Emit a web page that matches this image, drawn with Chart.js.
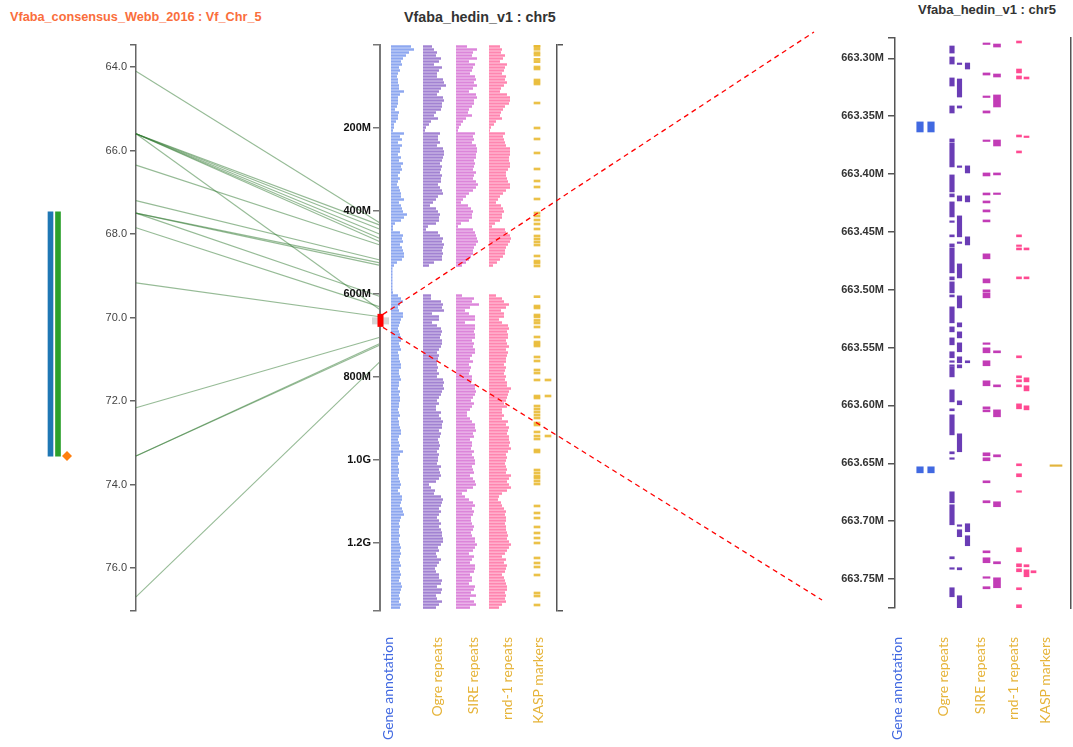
<!DOCTYPE html>
<html>
<head>
<meta charset="utf-8">
<script src="https://cdn.jsdelivr.net/npm/chart.js@4.4.1/dist/chart.umd.min.js"></script>
<style>
  html, body { margin: 0; padding: 0; background: #fff; }
  #stage { position: relative; width: 1073px; height: 747px; overflow: hidden; background: #fff; }
  #stage canvas { position: absolute; top: 0; }
  .title { position: absolute; font-family: "Liberation Sans", Arial, sans-serif; font-weight: bold; white-space: nowrap; line-height: 14px; }
  .track-label { position: absolute; top: 637px; font-family: Lato, "Open Sans", sans-serif; font-size: 14px; line-height: 16px;
                 writing-mode: vertical-rl; transform: rotate(180deg); white-space: nowrap; }
</style>
</head>
<body>
<div id="stage">
  <div class="title" style="left:10px;top:10px;font-size:12.7px;color:#fa6e3c;">Vfaba_consensus_Webb_2016 : Vf_Chr_5</div>
  <div class="title" style="left:404px;top:10px;font-size:14.3px;color:#333;">Vfaba_hedin_v1 : chr5</div>
  <div class="title" style="left:918px;top:3px;font-size:13px;color:#333;">Vfaba_hedin_v1 : chr5</div>
</div>
<script>
// ---------------- genetic map (cM) ----------------
const cmTicks = [64, 66, 68, 70, 72, 74, 76];
const qtlInterval = [67.47, 73.32];      // blue / green interval bars
const qtlPeak = 73.32;                   // orange diamond

// marker links: genetic position (cM) -> physical position (Mb)
const linkCM = [64.10, 65.60, 65.60, 65.60, 65.60, 65.60, 65.60, 66.35, 67.20, 67.50, 67.50, 67.50, 67.85, 69.17, 72.16, 73.32, 73.32, 76.69];
const linkBP = [429, 434, 444, 456, 466, 474, 638, 482, 518, 525, 531, 606, 631, 655, 704, 719, 723, 763];

// ---------------- physical chromosome (Mb) ----------------
const bpTicks = [200, 400, 600, 800, 1000, 1200];
const bpTickLabels = ['200M', '400M', '600M', '800M', '1.0G', '1.2G'];
const BIN = 7.23;          // Mb per density bin

const geneDensity = [
  20,23,18,15,12,10,11,8,9,7, 6,7,7,8,8,13,9,7,7,7, 6,4,8,7,7,5,3,3,
  2,
  13,9,11,7,11,9,9,7,10,8, 12,10,11,9,7,9,7,6,8,9, 10,10,13,8,10,11,12,16,13,10, 4,2,2,9,12,11,12,9,11,12, 13,13,11,6,3,
  1.5,1.5,1.5,1.5,1.5,1.5,1.5,1.5,2,
  7,10,12,9,7,8,12,12,10,9, 8,7,8,9,10,10,8,9,10,7, 8,8,9,10,10,8,8,9,10,8, 8,7,9,8,9,9,8,8,7,8,
  9,7,8,8,9,10,10,8,7,8, 9,8,12,9,7,7,8,7,8,8, 7,8,9,10,9,7,9,11,11,10, 9,11,12,13,10,9,8,9,8,8,
  9,8,8,9,10,9,10,9,8,9, 10,8,9,10,9,8,10,11,10,9, 8,9,8,10,9
];
const ogreDensity = [
  9,11,14,13,18,16,11,19,16,14, 14,20,21,23,18,16,14,20,21,19, 19,18,13,11,15,8,6,3,
  2,
  17,15,15,17,14,20,21,21,20,19, 17,19,18,17,19,18,18,15,17,19, 20,15,13,10,7,13,15,17,16,16, 13,5,3,15,17,20,19,21,20,19, 20,19,19,11,6,
  0,0,0,0,0,0,0,0,0,
  8,8,18,20,19,21,9,16,16,9, 14,18,19,18,17,19,19,18,16,14, 16,15,14,14,15,14,16,14,20,21, 20,21,19,18,16,14,16,13,13,18,
  16,18,20,19,19,16,18,17,15,16, 17,16,14,16,15,15,14,18,16,17, 18,16,13,6,8,12,11,18,20,19, 18,16,18,16,14,16,18,16,18,19,
  19,20,20,18,15,16,13,14,18,16, 14,12,13,16,16,19,18,14,19,18, 13,14,19,16,13
];
const sireDensity = [
  11,21,17,16,21,13,19,17,16,14, 19,20,18,21,17,13,20,21,18,18, 16,13,12,16,10,7,5,3,
  2,
  19,17,18,16,20,21,21,20,20,18, 19,18,17,20,18,17,20,22,20,17, 13,10,7,5,12,15,17,16,16,13, 5,2,17,19,20,21,22,20,18,17, 17,15,13,10,6,
  0,0,0,0,0,0,0,0,0,
  6,18,16,23,14,9,13,19,19,9, 19,19,18,19,19,16,18,17,19,19, 16,14,17,13,15,14,13,16,16,15, 19,19,20,19,17,15,18,16,14,11,
  11,14,16,19,19,20,17,18,14,16, 16,15,18,16,18,19,19,16,17,18, 14,17,19,20,17,11,6,9,13,17, 19,16,18,17,15,15,16,18,17,15,
  16,19,19,21,19,17,13,18,16,14, 19,19,18,14,16,16,13,19,18,15, 20,14,18,20,14
];
const rnd1Density = [
  11,13,12,16,14,11,18,16,15,13, 17,16,18,15,12,11,18,21,21,20, 16,14,12,11,13,7,5,2,
  1,
  16,14,15,16,17,21,21,21,20,20, 21,21,19,17,17,18,19,21,21,17, 14,11,9,7,12,14,15,13,13,11, 6,3,16,17,21,22,21,19,17,16, 16,14,11,8,4,
  0,0,0,0,0,0,0,0,0,
  7,13,15,20,17,12,15,15,10,13, 19,20,18,19,19,17,18,20,17,19, 18,17,17,15,17,16,15,17,16,18, 18,22,20,19,18,17,15,18,13,13,
  15,13,19,17,20,19,18,20,20,21, 20,22,19,17,18,17,16,17,18,17, 22,20,18,20,22,18,13,10,9,12, 13,15,17,16,17,17,16,17,17,18,
  19,18,20,22,20,18,16,13,17,15, 18,17,16,13,15,16,17,18,18,16, 17,16,17,13,10
];
// KASP marker positions (Mb); a repeated position is stacked in the second column
const kaspPos = [1, 4.1, 10.4, 18.6, 24.1, 34.5, 40.2, 53, 57.8, 84.3, 89.2, 94, 139.8, 200, 226.5, 260.2, 298.8, 327.7, 342.2,
  371.1, 404.8, 412, 421.7, 431.3, 443.4, 460.2, 467.5, 474.7, 482, 508.4, 520.5, 525.3, 532.5,
  606.5, 628.9, 633.7, 650.6, 655.4, 663.65, 669.9, 679.5, 703.6, 715.7, 720.5, 725.3, 751.8, 761.4, 783.1, 790.4, 807.2, 807.2,
  845.8, 845.8, 850.6, 869.9, 877.1, 884.3, 891.6, 898.8, 910.8, 915.7, 932.5, 942.2, 942.2, 949.4, 975.9, 980.7,
  1024.1, 1031.3, 1038.6, 1043.4, 1050.6, 1057.8, 1110.8, 1127.7, 1139.8, 1161.4, 1175.9, 1188, 1200, 1236.1, 1248.2, 1257.8,
  1277.1, 1320.5, 1327.7, 1349.4];
const kaspLane = kaspPos.map((p, i) => (i > 0 && kaspPos[i - 1] === p) ? 1 : 0);

// ---------------- zoomed window (Mb) ----------------
const ZOOM_MIN = 663.2825, ZOOM_MAX = 663.775;
const zoomTicks = [663.30, 663.35, 663.40, 663.45, 663.50, 663.55, 663.60, 663.65, 663.70, 663.75];
// features: [start, end, lane]
const geneZoom = [[663.3550,663.3637,0],[663.3550,663.3637,1],[663.6530,663.6582,0],[663.6530,663.6582,1]];
const ogreZoom = [
  [663.2894,663.2955,0],[663.2989,663.3050,0],[663.3170,663.3240,0],[663.3412,663.3473,0],[663.3697,663.3723,0],
  [663.3732,663.3939,0],[663.4008,663.4155,0],[663.4172,663.4198,0],[663.4241,663.4371,0],[663.4405,663.4414,0],
  [663.4526,663.4543,0],[663.4604,663.4630,0],[663.4639,663.4854,0],[663.4889,663.4915,0],[663.4932,663.5027,0],
  [663.5045,663.5062,0],[663.5148,663.5286,0],[663.5321,663.5364,0],[663.5416,663.5476,0],[663.5536,663.5588,0],
  [663.5614,663.5623,0],[663.5649,663.5657,0],[663.5666,663.5753,0],[663.5865,663.5969,0],[663.6029,663.6046,0],
  [663.6081,663.6254,0],[663.6400,663.6418,0],[663.6452,663.6461,0],[663.6746,663.6841,0],[663.6858,663.7031,0],
  [663.7307,663.7325,0],[663.7402,663.7411,0],[663.7575,663.7653,0],
  [663.3041,663.3050,1],[663.3179,663.3335,1],[663.3412,663.3430,1],[663.3930,663.3939,1],[663.4189,663.4233,1],
  [663.4362,663.4543,1],[663.4587,663.4595,1],[663.4777,663.4898,1],[663.5053,663.5157,1],[663.5286,663.5321,1],
  [663.5364,663.5416,1],[663.5459,663.5536,1],[663.5580,663.5631,1],[663.5649,663.5675,1],[663.5960,663.5994,1],
  [663.6245,663.6400,1],[663.7031,663.7040,1],[663.7074,663.7134,1],[663.7402,663.7420,1],[663.7644,663.7756,1],
  [663.3041,663.3093,2],[663.3930,663.3991,2],[663.4189,663.4241,2],[663.4543,663.4613,2],[663.5614,663.5631,2],
  [663.7022,663.7091,2],[663.7126,663.7212,2]
];
const sireZoom = [
  [663.2868,663.2877,0],[663.3127,663.3145,0],[663.3326,663.3335,0],[663.3455,663.3473,0],[663.3706,663.3714,0],
  [663.3991,663.4017,0],[663.4164,663.4181,0],[663.4233,663.4250,0],[663.4310,663.4328,0],[663.4397,663.4414,0],
  [663.4690,663.4733,0],[663.4906,663.4941,0],[663.5001,663.5019,0],[663.5027,663.5070,0],[663.5459,663.5467,0],
  [663.5502,663.5545,0],[663.5614,663.5657,0],[663.5787,663.5830,0],[663.6012,663.6029,0],[663.6038,663.6055,0],
  [663.6409,663.6435,0],[663.6452,663.6478,0],[663.6651,663.6668,0],[663.6823,663.6841,0],[663.7256,663.7273,0],
  [663.7316,663.7359,0],[663.7480,663.7489,0],[663.7566,663.7584,0],
  [663.2877,663.2903,1],[663.3136,663.3162,1],[663.3317,663.3421,1],[663.3706,663.3758,1],[663.3991,663.4008,1],
  [663.4164,663.4172,1],[663.5528,663.5545,1],[663.5822,663.5839,1],[663.6038,663.6098,1],[663.6426,663.6444,1],
  [663.6832,663.6875,1],[663.7350,663.7368,1],[663.7489,663.7575,1]
];
const rnd1Zoom = [
  [663.2851,663.2868,0],[663.3093,663.3127,0],[663.3153,663.3179,0],[663.3663,663.3680,0],[663.3801,663.3818,0],
  [663.4526,663.4543,0],[663.4613,663.4622,0],[663.4639,663.4656,0],[663.4889,663.4906,0],[663.5571,663.5588,0],
  [663.5744,663.5761,0],[663.5778,663.5796,0],[663.5822,663.5839,0],[663.5986,663.6029,0],[663.6504,663.6521,0],
  [663.6590,663.6616,0],[663.6737,663.6746,0],[663.7230,663.7264,0],[663.7368,663.7394,0],[663.7411,663.7437,0],
  [663.7575,663.7592,0],[663.7722,663.7765,0],
  [663.3162,663.3179,1],[663.3672,663.3680,1],[663.4639,663.4656,1],[663.4889,663.4906,1],[663.5761,663.5796,1],
  [663.5830,663.5874,1],[663.6003,663.6038,1],[663.7376,663.7394,1],[663.7420,663.7480,1],
  [663.7428,663.7446,2]
];
const kaspZoom = [[663.6513,663.6521,0]];

// ---------------- layout ----------------
const H = 747;
const AXIS_TOP = 45, AXIS_BOTTOM = 611;           // map + chromosome axes
const CM_PX = 41.75;                               // px per cM
const CM_MIN = 64 - (67 - AXIS_TOP) / CM_PX;
const CM_MAX = 64 + (AXIS_BOTTOM - 67) / CM_PX;
const BP_MAX = (AXIS_BOTTOM - AXIS_TOP) / 0.415;   // 0.415 px per Mb
const ZOOM_TOP = 38, ZOOM_BOTTOM = 608;

const FONT = "'Liberation Sans', Arial, sans-serif";
Chart.defaults.font.family = FONT;
Chart.defaults.animation = false;
Chart.defaults.responsive = false;
Chart.defaults.events = [];
Chart.defaults.layout.autoPadding = false;
Chart.defaults.plugins.legend.display = false;
Chart.defaults.plugins.tooltip.enabled = false;

const stage = document.getElementById('stage');
function makeCanvas(left, width) {
  const c = document.createElement('canvas');
  c.width = width; c.height = H;
  c.style.left = left + 'px';
  c.style.width = width + 'px';
  c.style.height = H + 'px';
  stage.appendChild(c);
  return c;
}
function withCaps(list) {
  return (scale) => { scale.ticks = [scale.min, ...list, scale.max].map(v => ({ value: v })); };
}

// ---------- genetic map axis + links ----------
const linksPlugin = {
  id: 'links',
  afterDatasetsDraw(chart) {
    const { ctx, chartArea } = chart;
    const cm = chart.scales.y, bp = chart.scales.bp;
    ctx.save();
    ctx.strokeStyle = 'rgba(46,120,46,0.5)';
    ctx.lineWidth = 1.1;
    linkCM.forEach((c, i) => {
      ctx.beginPath();
      ctx.moveTo(chartArea.left, cm.getPixelForValue(c));
      ctx.lineTo(chartArea.right, bp.getPixelForValue(linkBP[i]));
      ctx.stroke();
    });
    ctx.restore();
  }
};
const cmChart = new Chart(makeCanvas(0, 381), {
  type: 'scatter',
  data: { datasets: [] },
  options: {
    layout: { padding: { top: AXIS_TOP, bottom: H - AXIS_BOTTOM, left: 0, right: 1 } },
    scales: {
      x: { type: 'linear', display: false, min: 0, max: 1 },
      y: {
        type: 'linear', position: 'left', reverse: true, min: CM_MIN, max: CM_MAX,
        afterFit: (s) => { s.width = 136; },
        afterBuildTicks: withCaps(cmTicks),
        ticks: { autoSkip: false, padding: 3, color: '#444', font: { size: 11 },
                 callback: (v) => cmTicks.includes(v) ? v.toFixed(1) : '' },
        grid: { drawOnChartArea: false, drawTicks: true, tickLength: 6, color: '#666', lineWidth: 1.5 },
        border: { color: '#666', width: 1.5 }
      },
      bp: { type: 'linear', display: false, position: 'right', reverse: true, min: 0, max: BP_MAX }
    }
  },
  plugins: [linksPlugin]
});

// ---------- QTL interval bars ----------
new Chart(makeCanvas(40, 36), {
  type: 'bar',
  data: {
    datasets: [
      { data: [{ x: 10.5, y: qtlInterval }], backgroundColor: '#1f77b4', barThickness: 5, grouped: false },
      { data: [{ x: 18, y: qtlInterval }], backgroundColor: '#2ca02c', barThickness: 5, grouped: false },
      { type: 'scatter', data: [{ x: 27, y: qtlPeak }], pointStyle: 'rectRot', radius: 5,
        backgroundColor: '#ff7f0e', borderColor: '#ff7f0e', borderWidth: 0 }
    ]
  },
  options: {
    layout: { padding: { top: AXIS_TOP, bottom: H - AXIS_BOTTOM, left: 0, right: 0 } },
    scales: {
      x: { type: 'linear', display: false, offset: false, min: 0, max: 36 },
      y: { type: 'linear', display: false, reverse: true, min: CM_MIN, max: CM_MAX }
    }
  }
});

// ---------- chromosome axis ----------
const BP_LEFT = 290;
const bpChart = new Chart(makeCanvas(BP_LEFT, 91), {
  type: 'scatter',
  data: { datasets: [] },
  options: {
    layout: { padding: { top: AXIS_TOP, bottom: H - AXIS_BOTTOM, left: 0, right: 0 } },
    scales: {
      x: { type: 'linear', display: false, min: 0, max: 1 },
      y: {
        type: 'linear', position: 'left', reverse: true, min: 0, max: BP_MAX,
        afterFit: (s) => { s.width = 90; },
        afterBuildTicks: withCaps(bpTicks),
        ticks: { autoSkip: false, padding: 2, color: '#111', font: { size: 11, weight: 'bold' },
                 callback: (v) => { const k = bpTicks.indexOf(v); return k >= 0 ? bpTickLabels[k] : ''; } },
        grid: { drawOnChartArea: false, drawTicks: true, tickLength: 7, color: '#777', lineWidth: 1.5 },
        border: { color: '#777', width: 2 }
      }
    }
  }
});

// ---------- density tracks ----------
function densityTrack(left, width, values, color) {
  return new Chart(makeCanvas(left, width), {
    type: 'bar',
    data: {
      datasets: [{
        data: values.map((v, i) => ({ y: (i + 0.5) * BIN, x: v })),
        backgroundColor: color, borderWidth: 0, barPercentage: 0.82, categoryPercentage: 1
      }]
    },
    options: {
      indexAxis: 'y',
      layout: { padding: { top: AXIS_TOP, bottom: H - AXIS_BOTTOM, left: 0, right: 0 } },
      scales: {
        x: { type: 'linear', display: false, min: 0, max: width },
        y: { type: 'linear', display: false, offset: false, reverse: true, min: 0, max: BP_MAX }
      }
    }
  });
}
densityTrack(391, 32, geneDensity, 'rgba(112,145,236,0.8)');
densityTrack(423, 33, ogreDensity, 'rgba(146,108,202,0.85)');
densityTrack(456, 33, sireDensity, 'rgba(214,112,212,0.85)');
densityTrack(489, 33, rnd1Density, 'rgba(255,112,162,0.85)');

// KASP markers + closing bracket
const kaspCols = [[4, 10], [15, 21]];
new Chart(makeCanvas(530, 34), {
  type: 'bar',
  data: {
    datasets: [{
      data: kaspPos.map((p, i) => ({ y: p, x: kaspCols[kaspLane[i]] })),
      backgroundColor: 'rgba(232,182,40,0.85)', borderWidth: 0, barThickness: 2, grouped: false
    }]
  },
  options: {
    indexAxis: 'y',
    layout: { padding: { top: AXIS_TOP, bottom: H - AXIS_BOTTOM, left: 0, right: 0 } },
    scales: {
      x: { type: 'linear', display: false, min: 0, max: 27 },
      y: {
        type: 'linear', position: 'right', offset: false, reverse: true, min: 0, max: BP_MAX,
        afterFit: (s) => { s.width = 7; },
        afterBuildTicks: withCaps([]),
        ticks: { display: false },
        grid: { offset: false, drawOnChartArea: false, drawTicks: true, tickLength: 6, color: '#555', lineWidth: 1.5 },
        border: { color: '#555', width: 1.5 }
      }
    }
  }
});

// ---------- zoomed window ----------
const ZOOM_LEFT = 820;
const laneX = { gene: [25, 36], ogre: [57, 64.5, 72.5], sire: [91.5, 102], rnd1: [124, 131.5, 138.5], kasp: [161] };
function zoomSet(list, lanes, color, thickness) {
  return {
    data: list.map(([s, e, l]) => ({ x: lanes[l], y: [s, e] })),
    backgroundColor: color, borderWidth: 0, barThickness: thickness, grouped: false, minBarLength: 1.5
  };
}
const zoomChart = new Chart(makeCanvas(ZOOM_LEFT, 253), {
  type: 'bar',
  data: {
    datasets: [
      zoomSet(geneZoom, laneX.gene, '#4169e1', 6.5),
      zoomSet(ogreZoom, laneX.ogre, '#6a3db5', 4.5),
      zoomSet(sireZoom, laneX.sire, '#c23cb6', 7),
      zoomSet(rnd1Zoom, laneX.rnd1, '#ff4a92', 5),
      zoomSet(kaspZoom, laneX.kasp, '#e2b43c', 12)
    ]
  },
  options: {
    layout: { padding: { top: ZOOM_TOP, bottom: H - ZOOM_BOTTOM, left: 0, right: 0 } },
    scales: {
      x: { type: 'linear', display: false, offset: false, min: 0, max: 176 },
      y: {
        type: 'linear', position: 'left', reverse: true, min: ZOOM_MIN, max: ZOOM_MAX,
        afterFit: (s) => { s.width = 75; },
        afterBuildTicks: withCaps(zoomTicks),
        ticks: { autoSkip: false, padding: 4, color: '#333', font: { size: 11, weight: 'bold' },
                 callback: (v) => zoomTicks.includes(v) ? v.toFixed(2) + 'M' : '' },
        grid: { drawOnChartArea: false, drawTicks: true, tickLength: 7, color: '#555', lineWidth: 1.5 },
        border: { color: '#555', width: 1.5 }
      },
      y2: {
        type: 'linear', position: 'right', reverse: true, min: ZOOM_MIN, max: ZOOM_MAX,
        afterFit: (s) => { s.width = 2; },
        afterBuildTicks: withCaps([]),
        ticks: { display: false },
        grid: { drawOnChartArea: false, drawTicks: false },
        border: { color: '#555', width: 1.5 }
      }
    }
  }
});

// ---------- zoom marker and connectors ----------
const connectorPlugin = {
  id: 'connector',
  afterDraw(chart) {
    const ctx = chart.ctx;
    const bp = bpChart.scales.y;
    const axisX = BP_LEFT + bpChart.chartArea.left;
    const yc = bp.getPixelForValue((ZOOM_MIN + ZOOM_MAX) / 2);
    const zs = zoomChart.scales.y;
    const zTop = zs.getPixelForValue(ZOOM_MIN), zBottom = zs.getPixelForValue(ZOOM_MAX);
    ctx.save();
    ctx.fillStyle = 'rgba(200,200,200,0.75)';
    ctx.fillRect(axisX - 8, yc - 3, 17, 7);
    ctx.strokeStyle = '#ff0000';
    ctx.lineWidth = 1.3;
    ctx.setLineDash([5, 4]);
    ctx.beginPath();
    ctx.moveTo(axisX + 3, yc - 6);
    ctx.lineTo(ZOOM_LEFT - 6, zTop - 6);
    ctx.moveTo(axisX + 3, yc + 7);
    ctx.lineTo(ZOOM_LEFT + 2, zBottom - 8);
    ctx.stroke();
    ctx.setLineDash([]);
    ctx.fillStyle = '#ff0000';
    ctx.fillRect(axisX - 2.5, yc - 6.5, 6, 13);
    ctx.restore();
  }
};
new Chart(makeCanvas(0, 1073), {
  type: 'scatter',
  data: { datasets: [] },
  options: {
    layout: { padding: 0 },
    scales: { x: { display: false }, y: { display: false } }
  },
  plugins: [connectorPlugin]
});

// ---------- track labels ----------
const trackNames = ['Gene annotation', 'Ogre repeats', 'SIRE repeats', 'rnd-1 repeats', 'KASP markers'];
const trackLabelColors = ['#4169e1', '#e6b43a', '#e6b43a', '#e6b43a', '#e6b43a'];
const labelCentersMid = [388, 437, 473, 507, 538];
const labelCentersZoom = [897, 943, 980, 1013, 1045];
[labelCentersMid, labelCentersZoom].forEach((centers) => {
  trackNames.forEach((name, i) => {
    const d = document.createElement('div');
    d.className = 'track-label';
    d.textContent = name;
    d.style.color = trackLabelColors[i];
    d.style.left = (centers[i] - 8) + 'px';
    stage.appendChild(d);
  });
});
</script>
</body>
</html>
